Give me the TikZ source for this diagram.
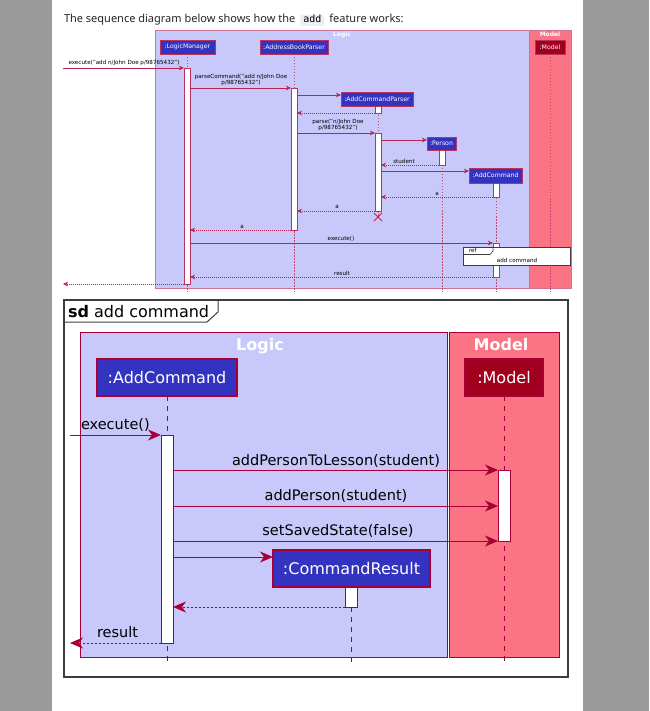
\documentclass[tikz,border=0pt]{standalone}
\usepackage{fontspec}
\setmainfont{DejaVu Sans}
\newfontfamily\titlefont{Noto Sans}
\newfontfamily\codefont{DejaVu Sans Mono}
\usetikzlibrary{arrows.meta}
\definecolor{sidegray}{RGB}{155,155,155}
\definecolor{logicfill}{RGB}{200,200,250}
\definecolor{modelfill}{RGB}{250,116,132}
\definecolor{brd}{RGB}{168,0,54}
\definecolor{partblue}{RGB}{51,51,192}
\definecolor{partred}{RGB}{160,0,30}
\definecolor{framegray}{RGB}{60,60,60}
\definecolor{codebg}{RGB}{238,238,244}
\begin{document}
\begin{tikzpicture}[x=1pt,y=-1pt,
  every node/.style={inner sep=0pt, outer sep=0pt},
  titletxt/.style={font=\titlefont\fontsize{11}{13}\selectfont, anchor=base west, text=black!85},
  codebox/.style={font=\codefont\fontsize{10}{12}\selectfont, fill=codebg, rounded corners=2pt, inner xsep=3pt, text height=8pt, text depth=3pt, anchor=base west},
  frameA/.style={draw=brd!55, line width=0.6pt, anchor=north west},
  partA/.style={draw=brd!80, line width=0.6pt, fill=partblue, text=white, font=\fontsize{6.2}{7}\selectfont, minimum height=14pt},
  actA/.style={draw=brd!80, line width=0.6pt, fill=white, minimum width=6pt, anchor=north},
  lifeA/.style={draw=brd!70, line width=0.5pt, dash pattern=on 1.5pt off 1.5pt},
  msgA/.style={draw=brd!85, line width=0.5pt, -{Stealth[length=5pt,width=4.5pt,inset=1.5pt]}},
  retA/.style={msgA, dash pattern=on 1pt off 1pt},
  lblA/.style={font=\fontsize{5.6}{6.2}\selectfont, align=center, anchor=south},
  grpA/.style={text=white, font=\bfseries\fontsize{6}{7}\selectfont},
  refA/.style={draw=framegray, line width=0.7pt, fill=white, anchor=north west},
  frameB/.style={draw=brd, line width=1pt, anchor=north west},
  partB/.style={draw=brd, line width=1.3pt, fill=partblue, text=white, font=\fontsize{16}{19}\selectfont, minimum height=37pt},
  actB/.style={draw=brd, line width=1pt, fill=white, minimum width=12pt, anchor=north},
  lifeB/.style={draw=brd, line width=1pt, dash pattern=on 5pt off 5pt},
  msgB/.style={draw=brd, line width=1pt, -{Stealth[length=13pt,width=11pt,inset=4pt]}},
  retB/.style={msgB, dash pattern=on 2pt off 2pt},
  lblB/.style={font=\fontsize{14.5}{17}\selectfont, anchor=base},
  grpB/.style={text=white, font=\bfseries\fontsize{16}{19}\selectfont, anchor=base},
]
\useasboundingbox (0,0) rectangle (649,711);
\fill[sidegray] (0,0) rectangle (649,711);
\fill[white] (52,0) rectangle (583,711);

% title
\node[titletxt] (t1) at (64,23) {The sequence diagram below shows how the};
\node[codebox] (t2) at ([xshift=5pt]t1.base east) {add};
\node[titletxt] (t3) at ([xshift=5pt]t2.base east) {feature works:};

% ===== top diagram =====
\node[frameA, fill=logicfill, minimum width=374pt, minimum height=258pt] (logicA) at (155,30) {};
\node[frameA, fill=modelfill, minimum width=42pt, minimum height=258pt] (modelA) at (529,30) {};
\node[grpA] (logicAL) at (342,34.5) {Logic};
\node[grpA] (modelAL) at (550,34.5) {Model};

\coordinate (lmT) at (187,54); \coordinate (lmE) at (187,292);
\coordinate (abT) at (294,54); \coordinate (abE) at (294,292);
\coordinate (cpT) at (378,106); \coordinate (cpE) at (378,217);
\coordinate (peT) at (442,150); \coordinate (peE) at (442,292);
\coordinate (acT) at (496,183); \coordinate (acE) at (496,292);
\coordinate (mdT) at (550,54); \coordinate (mdE) at (550,292);
\draw[lifeA] (lmT) -- (lmE);
\draw[lifeA] (abT) -- (abE);
\draw[lifeA] (cpT) -- (cpE);
\draw[lifeA] (peT) -- (peE);
\draw[lifeA] (acT) -- (acE);
\draw[lifeA] (mdT) -- (mdE);

\node[partA, minimum width=55pt] (lmA) at (187.5,47) {:LogicManager};
\node[partA, minimum width=68pt] (abpA) at (294,47) {:AddressBookParser};
\node[partA, minimum width=30pt, fill=partred] (mdlA) at (550,47) {:Model};
\node[partA, minimum width=72pt] (acpA) at (377,99.5) {:AddCommandParser};
\node[partA, minimum width=29pt, minimum height=13pt] (perA) at (441.5,143.5) {:Person};
\node[partA, minimum width=53pt, minimum height=15pt] (acA) at (495.5,175.5) {:AddCommand};

\node[actA, minimum height=216pt] (lmAct) at (187,68) {};
\node[actA, minimum height=142pt] (abpAct) at (294,88) {};
\node[actA, minimum height=7pt] (acpAct1) at (378,106) {};
\node[actA, minimum height=78pt] (acpAct2) at (378,133) {};
\node[actA, minimum height=15pt] (perAct) at (442,150) {};
\node[actA, minimum height=14pt] (acAct1) at (496,183) {};
\node[actA, minimum height=34pt] (acAct2) at (496,243) {};

\coordinate (inA) at (63,68);
\coordinate (outA) at (63,284);
\draw[msgA] (inA) -- (lmAct.north west);
\node[lblA] (lA0) at (124,66) {execute("add n/John Doe p/98765432")};
\draw[msgA] (lmAct.east |- abpAct.north) -- (abpAct.north west);
\node[lblA] (lA1) at (241,86) {parseCommand("add n/John Doe\\p/98765432")};
\draw[msgA] (abpAct.east |- 0,95) -- (acpA.west |- 0,95);
\draw[retA] (acpAct1.south west) -- (abpAct.east |- acpAct1.south);
\draw[msgA] (abpAct.east |- acpAct2.north) -- (acpAct2.north west);
\node[lblA] (lA3) at (338,131) {parse("n/John Doe\\p/98765432")};
\draw[msgA] (acpAct2.east |- 0,140) -- (perA.west |- 0,140);
\draw[retA] (perAct.south west) -- (acpAct2.east |- perAct.south);
\node[lblA] (lA4) at (404,163.5) {student};
\draw[msgA] (acpAct2.east |- 0,171) -- (acA.west |- 0,171);
\draw[retA] (acAct1.south west) -- (acpAct2.east |- acAct1.south);
\node[lblA] (lA5) at (437,195.5) {a};
\draw[retA] (acpAct2.south west) -- (abpAct.east |- acpAct2.south);
\node[lblA] (lA6) at (337,208.5) {a};
\draw[brd!85, line width=0.8pt] (374,213) -- (382,221) (374,221) -- (382,213);
\draw[retA] (abpAct.south west) -- (lmAct.east |- abpAct.south);
\node[lblA] (lA7) at (242,228.5) {a};
\draw[msgA] (lmAct.east |- acAct2.north) -- (acAct2.north west);
\node[lblA] (lA8) at (341,241.5) {execute()};
\draw[retA] (acAct2.south west) -- (lmAct.east |- acAct2.south);
\node[lblA] (lA9) at (342,275.5) {result};
\draw[retA] (lmAct.south west) -- (outA);

\node[refA, minimum width=107pt, minimum height=18pt] (refbox) at (463,247) {};
\draw[framegray, line width=0.6pt] (463,254.5) -- (490,254.5) -- (493,251) -- (493,247);
\node[font=\fontsize{5.6}{6}\selectfont, anchor=base west] (refL) at (469,252.5) {ref};
\node[font=\fontsize{5.6}{6}\selectfont] (refT) at (517,260) {add command};

% ===== bottom diagram =====
\node[draw=framegray, line width=1.4pt, fill=white, minimum width=504pt, minimum height=377pt, anchor=north west] (sdB) at (64,300) {};
\draw[framegray, line width=1pt] (64,322) -- (207,322) -- (218,312) -- (218,300);
\node[anchor=base west, font=\fontsize{16}{19}\selectfont] (sdL) at (68,317) {\textbf{sd} add command};

\node[frameB, fill=logicfill, minimum width=367pt, minimum height=325pt] (logicB) at (80,332) {};
\node[frameB, fill=modelfill, minimum width=110pt, minimum height=325pt] (modelB) at (449,332) {};
\node[grpB] (logicBL) at (260,350) {Logic};
\node[grpB] (modelBL) at (501,350) {Model};

\coordinate (acBT) at (167,396); \coordinate (acBE) at (167,663);
\coordinate (mdBT) at (504,396); \coordinate (mdBE) at (504,663);
\coordinate (crBT) at (351,587); \coordinate (crBE) at (351,663);
\draw[lifeB] (acBT) -- (acBE);
\draw[lifeB] (mdBT) -- (mdBE);
\draw[lifeB] (crBT) -- (crBE);

\node[partB, minimum width=140pt] (acB) at (167,377.5) {:AddCommand};
\node[partB, minimum width=78pt, fill=partred] (mdlB) at (504,377.5) {:Model};
\node[partB, minimum width=157pt] (crB) at (351.5,568.5) {:CommandResult};

\node[actB, minimum height=208pt] (acAct) at (167,435) {};
\node[actB, minimum height=71pt] (mdlAct) at (504,470) {};
\node[actB, minimum height=20pt] (crAct) at (351,587) {};

\coordinate (inB) at (70,435);
\coordinate (outB) at (70,643);
\draw[msgB] (inB) -- (acAct.north west);
\node[lblB, anchor=base west] (lB0) at (81,429) {execute()};
\draw[msgB] (acAct.east |- mdlAct.north) -- (mdlAct.north west);
\node[lblB] (lB1) at (336,465) {addPersonToLesson(student)};
\draw[msgB] (acAct.east |- 0,506) -- (mdlAct.west |- 0,506);
\node[lblB] (lB2) at (336,500) {addPerson(student)};
\draw[msgB] (acAct.east |- mdlAct.south) -- (mdlAct.south west);
\node[lblB] (lB3) at (338,535) {setSavedState(false)};
\draw[msgB] (acAct.east |- 0,557) -- (crB.west |- 0,557);
\draw[retB] (crAct.south west) -- (acAct.east |- crAct.south);
\draw[retB] (acAct.south west) -- (outB);
\node[lblB, anchor=base west] (lB4) at (97,637) {result};
\end{tikzpicture}
\end{document}
